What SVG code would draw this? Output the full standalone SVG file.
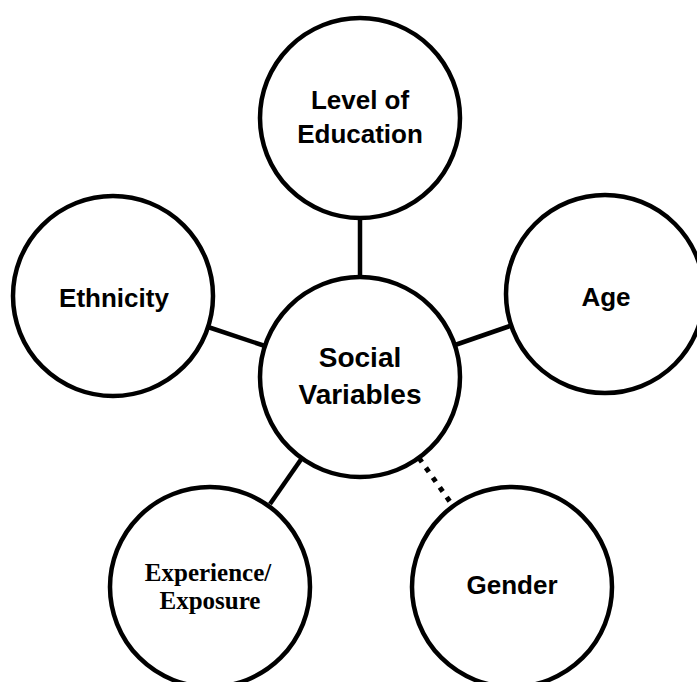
<svg xmlns="http://www.w3.org/2000/svg" width="697" height="682" viewBox="0 0 697 682">
  <style>
    .node circle { fill: #ffffff; stroke: #000000; stroke-width: 4.5; }
    .link { stroke: #000000; stroke-width: 4.5; fill: none; }
    .dotted { stroke-width: 5; stroke-dasharray: 5 7; }
    .label { font-family: "Liberation Sans", Arial, sans-serif; font-weight: bold; font-size: 26px; fill: #000000; text-anchor: middle; }
    .big { font-size: 28px; }
    .serif { font-family: "Liberation Serif", "Times New Roman", serif; font-size: 25px; }
  </style>
  <rect width="697" height="682" fill="#ffffff"/>

  <!-- connectors between the hub and the outer circles -->
  <g id="connectors">
    <line class="link" x1="360" y1="218" x2="360" y2="277"/>
    <line class="link" x1="265" y1="346" x2="208" y2="327"/>
    <line class="link" x1="455" y1="345" x2="510" y2="326"/>
    <line class="link" x1="302" y1="458" x2="270" y2="504"/>
    <line class="link dotted" x1="419" y1="458" x2="453" y2="506"/>
  </g>

  <g id="node-education" class="node">
    <circle cx="360" cy="118" r="100"/>
    <text class="label" x="360" y="109">Level of</text>
    <text class="label" x="360" y="143">Education</text>
  </g>

  <g id="node-ethnicity" class="node">
    <circle cx="113" cy="296" r="100"/>
    <text class="label" x="114" y="307">Ethnicity</text>
  </g>

  <g id="node-age" class="node">
    <circle cx="605" cy="294" r="99"/>
    <text class="label" x="606" y="306">Age</text>
  </g>

  <g id="node-social" class="node">
    <circle cx="360" cy="377" r="100"/>
    <text class="label big" x="360" y="367">Social</text>
    <text class="label big" x="360" y="404">Variables</text>
  </g>

  <g id="node-experience" class="node">
    <circle cx="210" cy="587" r="100"/>
    <text class="label serif" x="208" y="581">Experience/</text>
    <text class="label serif" x="210" y="609">Exposure</text>
  </g>

  <g id="node-gender" class="node">
    <circle cx="512" cy="587" r="100"/>
    <text class="label" x="512" y="594">Gender</text>
  </g>
</svg>
